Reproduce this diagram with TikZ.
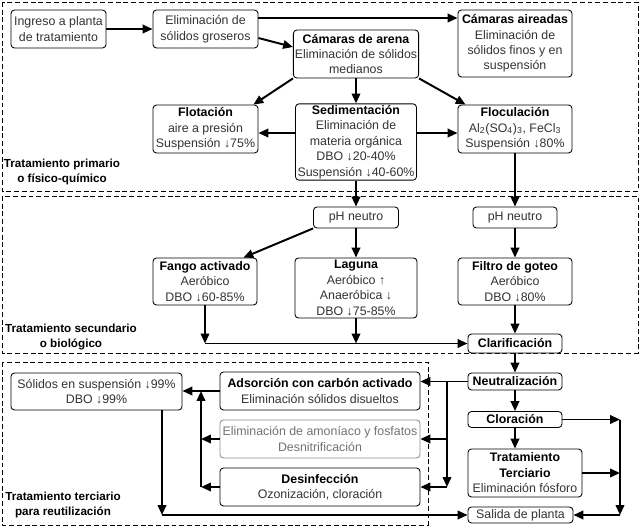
\documentclass[tikz,border=0pt]{standalone}
\usepackage{fontspec}
\setmainfont{Liberation Sans}
\usetikzlibrary{arrows.meta, calc}
\newcommand{\ttl}[1]{\textcolor{black}{\bfseries #1}}

\begin{document}
\begin{tikzpicture}[x=0.025cm, y=-0.025cm,
    >={Triangle[length=7pt, width=6pt]}, line width=1.4pt,
    font=\fontsize{8.8}{11}\selectfont,
    box/.style={draw, line width=0.6pt, rounded corners=2.5pt, fill=white,
      align=center, inner sep=1pt, text=black!80},
    faint/.style={box, draw=black!45, text=black!55},
    zone/.style={draw, line width=0.6pt, dash pattern=on 3.5pt off 2pt},
    zonelbl/.style={align=center, font=\fontsize{8.3}{11}\selectfont\bfseries}]
  \useasboundingbox (0,0) rectangle (640,528);
  \draw[zone] (2,2) rectangle (638,191);
  \draw[zone] (2,196) rectangle (638,353);
  \draw[zone] (2,362) rectangle (428,525);

  \node[box, minimum width=2.375cm, minimum height=0.95cm] (ingreso) at (58.5,29)
    {Ingreso a planta\\de tratamiento};
  \node[box, minimum width=2.625cm, minimum height=0.95cm] (gruesos) at (205.5,29)
    {Eliminación de\\sólidos groseros};
  \node[box, minimum width=3.1cm, minimum height=1.2cm] (arena) at (356,54)
    {\ttl{Cámaras de arena}\\Eliminación de sólidos\\medianos};
  \node[box, minimum width=2.85cm, minimum height=1.675cm] (aireadas) at (515,43.5)
    {\ttl{Cámaras aireadas}\\Eliminación de\\sólidos finos y en\\suspensión};
  \node[box, minimum width=2.625cm, minimum height=1.2cm] (flotacion) at (205.5,129)
    {\ttl{Flotación}\\aire a presión\\Suspensión ↓75\%};
  \node[box, minimum width=3.025cm, minimum height=1.9cm] (sedimentacion) at (356,142)
    {\ttl{Sedimentación}\\Eliminación de\\materia orgánica\\DBO ↓20-40\%\\Suspensión ↓40-60\%};
  \node[box, minimum width=2.85cm, minimum height=1.2cm] (floculacion) at (515,129)
    {\ttl{Floculación}\\Al\textsubscript{2}(SO\textsubscript{4})\textsubscript{3}, FeCl\textsubscript{3}\\Suspensión ↓80\%};

  \node[box, minimum width=2.125cm, minimum height=0.525cm] (ph1) at (356,217.5) {pH neutro};
  \node[box, minimum width=2.1cm, minimum height=0.525cm] (ph2) at (515,217.5) {pH neutro};
  \node[box, minimum width=2.6cm, minimum height=1.175cm] (fango) at (205,281.5)
    {\ttl{Fango activado}\\Aeróbico\\DBO ↓60-85\%};
  \node[box, minimum width=3.05cm, minimum height=1.5cm] (laguna) at (356,288)
    {\ttl{Laguna}\\Aeróbico ↑\\Anaeróbica ↓\\DBO ↓75-85\%};
  \node[box, minimum width=2.85cm, minimum height=1.175cm] (filtro) at (515,281.5)
    {\ttl{Filtro de goteo}\\Aeróbico\\DBO ↓80\%};
  \node[box, minimum width=2.35cm, minimum height=0.475cm] (clarif) at (515,343.5)
    {\ttl{Clarificación}};

  \node[box, minimum width=2.35cm, minimum height=0.425cm] (neutral) at (515,381.5)
    {\ttl{Neutralización}};
  \node[box, minimum width=2.35cm, minimum height=0.4cm] (cloracion) at (515,419.5)
    {\ttl{Cloración}};
  \node[box, minimum width=2.85cm, minimum height=1.2cm] (terciario) at (525,473)
    {\ttl{Tratamiento}\\\ttl{Terciario}\\Eliminación fósforo};
  \node[box, minimum width=2.625cm, minimum height=0.4cm] (salida) at (520.5,515)
    {Salida de planta};
  \node[box, minimum width=4.275cm, minimum height=0.925cm] (solidos) at (96.5,391.5)
    {Sólidos en suspensión ↓99\%\\DBO ↓99\%};
  \node[box, minimum width=5cm, minimum height=0.95cm] (adsorcion) at (320,391)
    {\ttl{Adsorción con carbón activado}\\Eliminación sólidos disueltos};
  \node[faint, minimum width=5cm, minimum height=0.95cm] (amoniaco) at (320,439)
    {Eliminación de amoníaco y fosfatos\\Desnitrificación};
  \node[box, minimum width=5cm, minimum height=0.95cm] (desinf) at (320,487)
    {\ttl{Desinfección}\\Ozonización, cloración};

  \node[zonelbl] (lblprim) at (62,172) {Tratamiento primario\\o físico-químico};
  \node[zonelbl] (lblsec) at (71,337) {Tratamiento secundario\\o biológico};
  \node[zonelbl] (lblter) at (63,505) {Tratamiento terciario\\para reutilización};

  \draw[->] (ingreso) -- (gruesos);
  \draw[->] (gruesos.east |- 0,18) -- (aireadas.west |- 0,18);
  \draw[->] (gruesos.east |- 0,38) -- (arena.west |- 0,47);
  \draw[->] (arena.south west) -- ([xshift=-0.125cm]flotacion.north east);
  \draw[->] (arena) -- (sedimentacion);
  \draw[->] (arena.south east) -- ([xshift=0.2cm]floculacion.north west);
  \draw[->] (sedimentacion.west |- 0,133) -- (flotacion.east |- 0,133);
  \draw[->] (sedimentacion.east |- 0,133) -- (floculacion.west |- 0,133);
  \draw[->] (sedimentacion) -- (ph1);
  \draw[->] (floculacion) -- (ph2);
  \draw[->] (ph1.south west) -- ([xshift=-0.35cm]fango.north east);
  \draw[->] (ph1) -- (laguna);
  \draw[->] (ph2) -- (filtro);
  \draw[->] (fango.south) -- (fango.south |- clarif.west);
  \draw[->] (laguna.south) -- (laguna.south |- clarif.west);
  \draw[->] (fango.south |- clarif.west) -- (clarif.west);
  \draw[->] (filtro) -- (clarif);
  \draw[->] (clarif) -- (neutral);

  \draw[->] (neutral.west) -- (adsorcion.east |- neutral.west);
  \draw[->] (447,0 |- neutral.west) -- (447,0 |- desinf.east);
  \draw[->] (447,0 |- amoniaco.east) -- (amoniaco.east);
  \draw[->] (447,0 |- desinf.east) -- (desinf.east);
  \draw[->] (adsorcion.west) -- (solidos.east |- adsorcion.west);
  \draw[->] (amoniaco.west) -- (201,0 |- amoniaco.west);
  \draw[->] (desinf.west) -- (201,0 |- desinf.west);
  \draw[->] (201,0 |- desinf.west) -- (201,0 |- adsorcion.west);
  \draw[->] (162,0 |- solidos.south) -- (162,0 |- salida.west);
  \draw[->] (162,0 |- salida.west) -- (salida.west);

  \draw[->] (neutral) -- (cloracion);
  \draw[->] (cloracion) -- (cloracion |- terciario.north);
  \draw[->] (cloracion.east) -- (620,0 |- cloracion.east);
  \draw[->] (terciario.east) -- (620,0 |- terciario.east);
  \draw[->] (620,0 |- cloracion.east) -- (620,0 |- salida.east);
  \draw[->] (620,0 |- salida.east) -- (salida.east);
\end{tikzpicture}
\end{document}
